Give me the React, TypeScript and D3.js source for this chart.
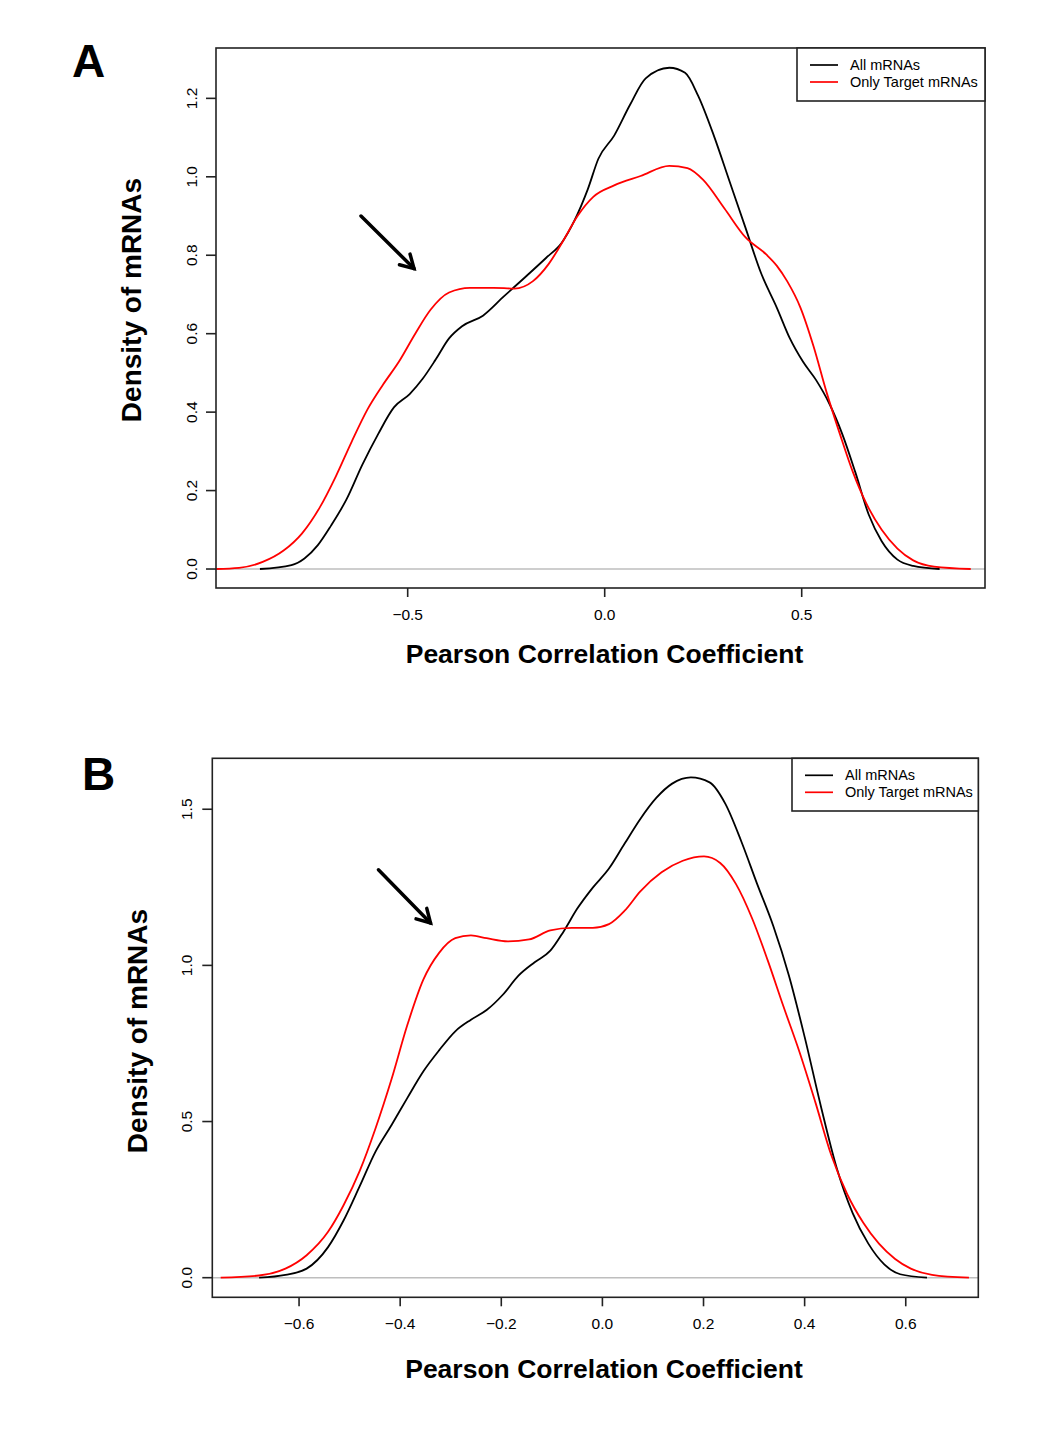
import React from 'react';
import * as d3 from 'd3';

// ---------- Data ----------
const seriesNames = ['All mRNAs', 'Only Target mRNAs'];
const seriesColors = ['#000000', '#ff0000'];

const xTicksA = [-0.5, 0, 0.5];
const yTicksA = [0, 0.2, 0.4, 0.6, 0.8, 1.0, 1.2];
const xTicksB = [-0.6, -0.4, -0.2, 0, 0.2, 0.4, 0.6];
const yTicksB = [0, 0.5, 1.0, 1.5];

// Panel A, all mRNAs: [correlation, density]
const allA: [number, number][] = [
  [-0.875, 0], [-0.795, 0.01], [-0.762, 0.027], [-0.728, 0.061], [-0.695, 0.11],
  [-0.655, 0.178], [-0.615, 0.266], [-0.575, 0.344], [-0.535, 0.412], [-0.495, 0.446],
  [-0.462, 0.485], [-0.429, 0.534], [-0.395, 0.588], [-0.362, 0.619], [-0.309, 0.646],
  [-0.256, 0.695], [-0.202, 0.744], [-0.149, 0.793], [-0.109, 0.832], [-0.076, 0.89],
  [-0.043, 0.968], [-0.016, 1.046], [0.024, 1.105], [0.064, 1.183], [0.104, 1.251],
  [0.164, 1.278], [0.204, 1.265], [0.237, 1.207], [0.277, 1.105], [0.317, 0.988],
  [0.357, 0.871], [0.397, 0.754], [0.437, 0.666], [0.47, 0.588], [0.503, 0.529],
  [0.537, 0.481], [0.57, 0.422], [0.603, 0.344], [0.636, 0.247], [0.67, 0.139],
  [0.703, 0.071], [0.743, 0.024], [0.783, 0.008], [0.85, 0],
];

// Panel A, only target mRNAs
const targetA: [number, number][] = [
  [-0.986, 0], [-0.928, 0.003], [-0.868, 0.018], [-0.815, 0.047], [-0.768, 0.091],
  [-0.722, 0.159], [-0.682, 0.237], [-0.642, 0.325], [-0.602, 0.407], [-0.562, 0.471],
  [-0.522, 0.529], [-0.482, 0.598], [-0.442, 0.661], [-0.395, 0.705], [-0.342, 0.717],
  [-0.282, 0.717], [-0.229, 0.715], [-0.182, 0.734], [-0.142, 0.778], [-0.103, 0.841],
  [-0.069, 0.9], [-0.029, 0.949], [0.024, 0.978], [0.091, 1.002], [0.164, 1.028],
  [0.21, 1.022], [0.25, 0.992], [0.304, 0.919], [0.357, 0.846], [0.41, 0.802],
  [0.437, 0.773], [0.463, 0.734], [0.497, 0.666], [0.53, 0.568], [0.563, 0.451],
  [0.597, 0.344], [0.63, 0.247], [0.663, 0.169], [0.703, 0.1], [0.743, 0.052],
  [0.783, 0.022], [0.836, 0.006], [0.929, 0],
];

// Panel B, all mRNAs
const allB: [number, number][] = [
  [-0.679, 0], [-0.627, 0.009], [-0.585, 0.029], [-0.543, 0.097], [-0.512, 0.183],
  [-0.48, 0.293], [-0.449, 0.403], [-0.417, 0.489], [-0.386, 0.575], [-0.354, 0.661],
  [-0.323, 0.728], [-0.291, 0.789], [-0.26, 0.826], [-0.229, 0.857], [-0.197, 0.906],
  [-0.166, 0.967], [-0.134, 1.01], [-0.103, 1.047], [-0.077, 1.108], [-0.05, 1.181],
  [-0.019, 1.249], [0.013, 1.31], [0.044, 1.39], [0.075, 1.469], [0.107, 1.537],
  [0.138, 1.582], [0.175, 1.602], [0.212, 1.586], [0.243, 1.518], [0.275, 1.396],
  [0.306, 1.261], [0.338, 1.126], [0.369, 0.967], [0.4, 0.771], [0.432, 0.55],
  [0.463, 0.354], [0.495, 0.207], [0.526, 0.109], [0.558, 0.042], [0.589, 0.011],
  [0.642, 0],
];

// Panel B, only target mRNAs
const targetB: [number, number][] = [
  [-0.755, 0], [-0.679, 0.007], [-0.627, 0.029], [-0.585, 0.072], [-0.543, 0.146],
  [-0.512, 0.232], [-0.48, 0.342], [-0.449, 0.477], [-0.417, 0.636], [-0.386, 0.808],
  [-0.354, 0.955], [-0.323, 1.04], [-0.291, 1.087], [-0.26, 1.096], [-0.229, 1.087],
  [-0.187, 1.077], [-0.145, 1.083], [-0.103, 1.112], [-0.061, 1.12], [-0.019, 1.12],
  [0.013, 1.132], [0.044, 1.175], [0.075, 1.237], [0.117, 1.298], [0.159, 1.335],
  [0.201, 1.349], [0.233, 1.328], [0.264, 1.261], [0.296, 1.151], [0.327, 1.016],
  [0.358, 0.869], [0.39, 0.722], [0.421, 0.563], [0.453, 0.391], [0.484, 0.268],
  [0.516, 0.176], [0.547, 0.109], [0.579, 0.06], [0.61, 0.029], [0.652, 0.009],
  [0.725, 0],
];

// Arrow annotations in data units: [x0, y0, x1, y1]
const arrowA = [-0.6185, 0.9, -0.484, 0.766];
const arrowB = [-0.443, 1.306, -0.34, 1.136];

// ---------- Drawing ----------
const FONT = "'Liberation Sans', Arial, Helvetica, sans-serif";

interface PanelProps {
  letter: string;
  letterX: number;
  letterY: number;
  left: number;
  right: number;
  top: number;
  bottom: number;
  xDomain: [number, number];
  yDomain: [number, number];
  xTicks: number[];
  yTicks: number[];
  series: [number, number][][];
  arrow: number[];
  yTickLabelX: number;
  xTickLabelY: number;
  yTitleX: number;
  yTitleY: number;
  xTitleX: number;
  xTitleY: number;
  legendLeft: number;
  legendBottom: number;
}

function Panel(p: PanelProps) {
  const x = d3.scaleLinear().domain(p.xDomain).range([p.left, p.right]);
  const y = d3.scaleLinear().domain(p.yDomain).range([p.bottom, p.top]);
  const line = d3
    .line<[number, number]>()
    .x((d) => x(d[0]))
    .y((d) => y(d[1]))
    .curve(d3.curveMonotoneX);
  const fmt = d3.format('.1f');
  const tickLen = 9;

  const [ax0, ay0, ax1, ay1] = p.arrow;
  const X0 = x(ax0), Y0 = y(ay0), X1 = x(ax1), Y1 = y(ay1);
  const ang = Math.atan2(Y1 - Y0, X1 - X0);
  const headLen = 15;
  const spread = Math.PI / 6;
  const h1 = [X1 - headLen * Math.cos(ang - spread), Y1 - headLen * Math.sin(ang - spread)];
  const h2 = [X1 - headLen * Math.cos(ang + spread), Y1 - headLen * Math.sin(ang + spread)];

  const legRowH = 17;
  const legTop = p.top;
  const legRow0 = legTop + 17;

  return (
    <g>
      <text x={p.letterX} y={p.letterY} fontFamily={FONT} fontWeight="bold" fontSize={46} fill="#000">
        {p.letter}
      </text>

      {/* zero line */}
      <line x1={p.left} x2={p.right} y1={y(0)} y2={y(0)} stroke="#bebebe" strokeWidth={1.6} />

      {/* curves */}
      {p.series.map((s, i) => (
        <path key={i} d={line(s) || ''} fill="none" stroke={seriesColors[i]} strokeWidth={1.8} strokeLinejoin="round" />
      ))}

      {/* plot frame */}
      <rect x={p.left} y={p.top} width={p.right - p.left} height={p.bottom - p.top} fill="none" stroke="#222" strokeWidth={1.6} />

      {/* x axis */}
      {p.xTicks.map((t) => (
        <g key={'x' + t}>
          <line x1={x(t)} x2={x(t)} y1={p.bottom} y2={p.bottom + tickLen} stroke="#222" strokeWidth={1.6} />
          <text x={x(t)} y={p.xTickLabelY} textAnchor="middle" fontFamily={FONT} fontSize={15.5} fill="#000">
            {fmt(t)}
          </text>
        </g>
      ))}

      {/* y axis */}
      {p.yTicks.map((t) => (
        <g key={'y' + t}>
          <line x1={p.left - tickLen - 1} x2={p.left} y1={y(t)} y2={y(t)} stroke="#222" strokeWidth={1.6} />
          <text
            transform={`translate(${p.yTickLabelX},${y(t)}) rotate(-90)`}
            textAnchor="middle"
            fontFamily={FONT}
            fontSize={15.5}
            fill="#000"
          >
            {fmt(t)}
          </text>
        </g>
      ))}

      {/* titles */}
      <text x={p.xTitleX} y={p.xTitleY} textAnchor="middle" fontFamily={FONT} fontWeight="bold" fontSize={26.5} fill="#000">
        Pearson Correlation Coefficient
      </text>
      <text
        transform={`translate(${p.yTitleX},${p.yTitleY}) rotate(-90)`}
        textAnchor="middle"
        fontFamily={FONT}
        fontWeight="bold"
        fontSize={28}
        fill="#000"
      >
        Density of mRNAs
      </text>

      {/* legend */}
      <rect x={p.legendLeft} y={legTop} width={p.right - p.legendLeft} height={p.legendBottom - legTop} fill="#fff" stroke="#222" strokeWidth={1.6} />
      {seriesNames.map((n, i) => (
        <g key={n}>
          <line
            x1={p.legendLeft + 13}
            x2={p.legendLeft + 41}
            y1={legRow0 + i * legRowH}
            y2={legRow0 + i * legRowH}
            stroke={seriesColors[i]}
            strokeWidth={1.7}
          />
          <text x={p.legendLeft + 53} y={legRow0 + i * legRowH + 5} fontFamily={FONT} fontSize={14.5} fill="#000">
            {n}
          </text>
        </g>
      ))}

      {/* arrow */}
      <line x1={X0} y1={Y0} x2={X1} y2={Y1} stroke="#000" strokeWidth={3.5} strokeLinecap="round" />
      <polyline points={`${h1[0]},${h1[1]} ${X1},${Y1} ${h2[0]},${h2[1]}`} fill="none" stroke="#000" strokeWidth={3.5} strokeLinecap="round" strokeLinejoin="miter" />
    </g>
  );
}

export default function App() {
  return (
    <svg
      width={1050}
      height={1448}
      viewBox="0 0 1050 1448"
      style={{ position: 'absolute', left: 0, top: 0, background: '#fff' }}
    >
      <rect x={0} y={0} width={1050} height={1448} fill="#fff" />
      <Panel
        letter="A"
        letterX={72}
        letterY={77}
        left={216}
        right={985}
        top={48}
        bottom={588}
        xDomain={[-0.9865, 0.9652]}
        yDomain={[-0.0484, 1.3284]}
        xTicks={xTicksA}
        yTicks={yTicksA}
        series={[allA, targetA]}
        arrow={arrowA}
        yTickLabelX={197}
        xTickLabelY={620}
        yTitleX={141}
        yTitleY={300}
        xTitleX={604.5}
        xTitleY={663}
        legendLeft={797}
        legendBottom={101}
      />
      <Panel
        letter="B"
        letterX={82}
        letterY={790}
        left={212.3}
        right={978.3}
        top={758.3}
        bottom={1297.3}
        xDomain={[-0.7716, 0.7435]}
        yDomain={[-0.0628, 1.6631]}
        xTicks={xTicksB}
        yTicks={yTicksB}
        series={[allB, targetB]}
        arrow={arrowB}
        yTickLabelX={192}
        xTickLabelY={1329}
        yTitleX={147}
        yTitleY={1031}
        xTitleX={604}
        xTitleY={1378}
        legendLeft={792}
        legendBottom={811}
      />
    </svg>
  );
}
